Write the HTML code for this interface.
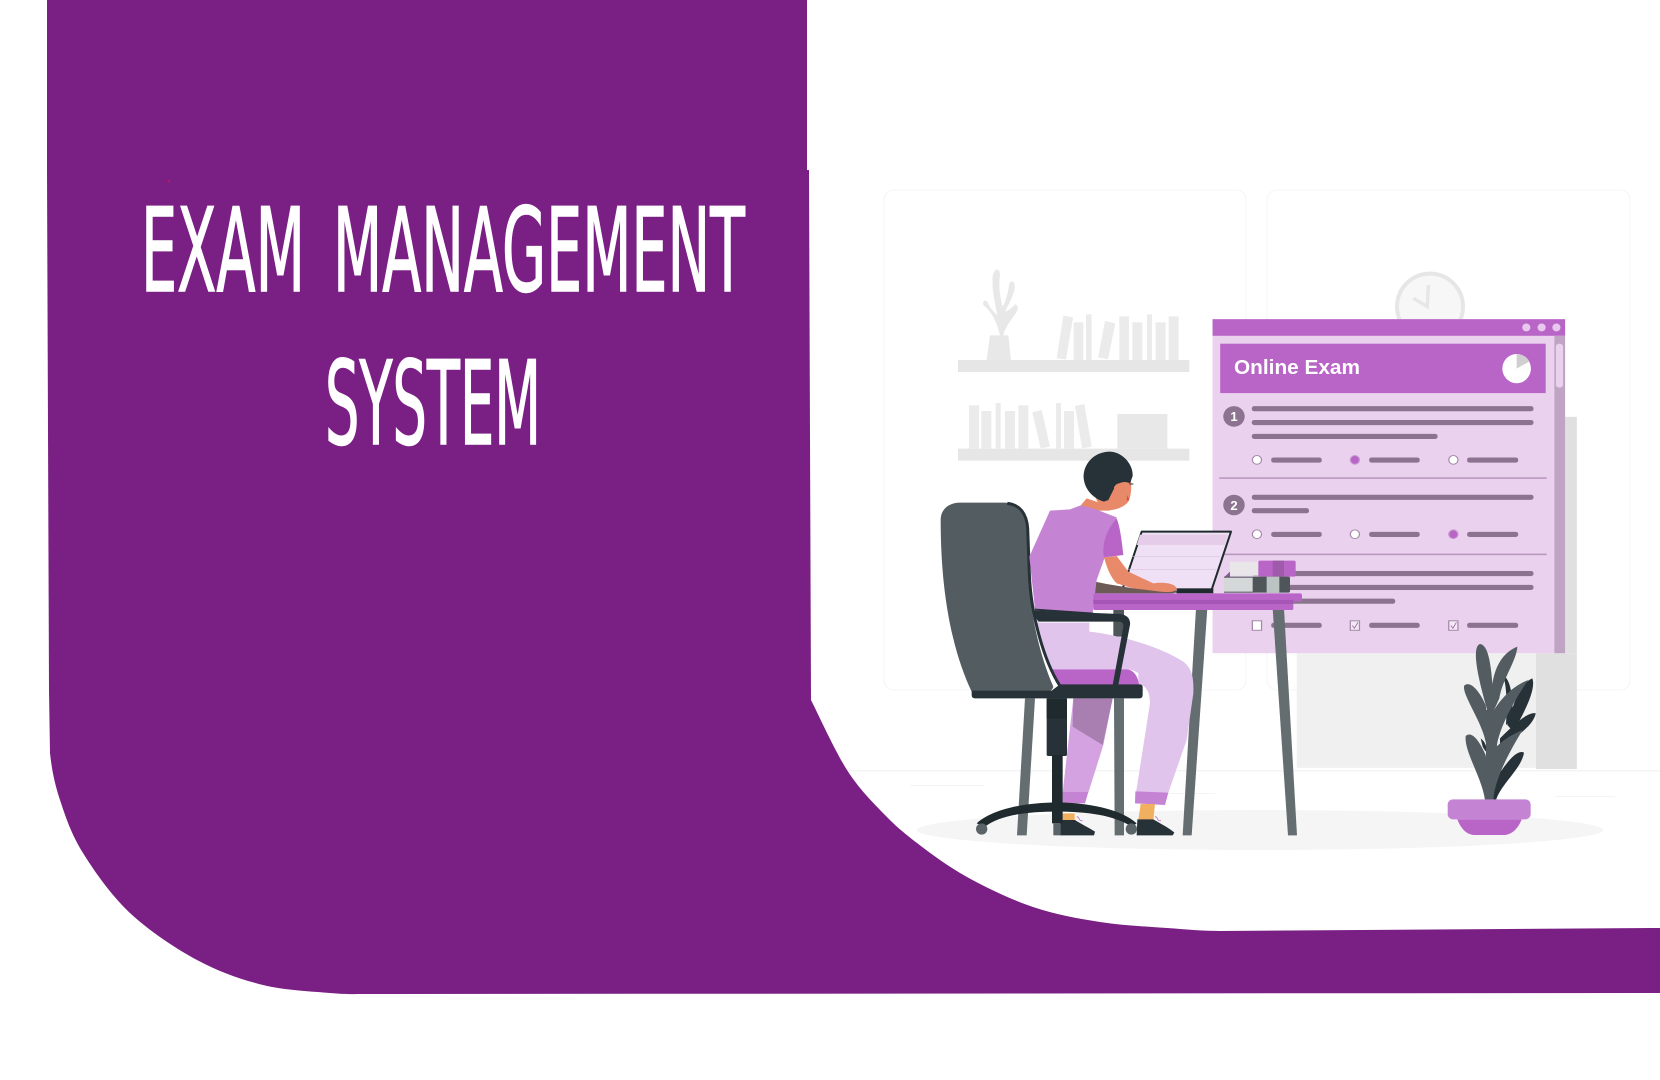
<!DOCTYPE html>
<html lang="en">
<head>
<meta charset="utf-8">
<title>Exam Management System</title>
<style>
html,body{margin:0;padding:0;background:#fff;width:1660px;height:1080px;overflow:hidden}
svg{display:block}
</style>
</head>
<body>
<svg width="1660" height="1080" viewBox="0 0 1660 1080" xmlns="http://www.w3.org/2000/svg">
<rect width="1660" height="1080" fill="#ffffff"/>

<g>
  <rect x="884" y="190" width="362" height="500" rx="10" fill="#fff" stroke="#f8f8f8" stroke-width="1.5"/>
  <rect x="1267" y="190" width="363" height="500" rx="10" fill="#fff" stroke="#f8f8f8" stroke-width="1.5"/>
  <rect x="815" y="770" width="845" height="1.5" fill="#f4f4f4"/>
  <rect x="910" y="785" width="75" height="1" fill="#f4f4f4"/>
  <rect x="1150" y="793" width="65" height="1" fill="#f4f4f4"/>
  <rect x="1555" y="796" width="60" height="1" fill="#f4f4f4"/>
  <ellipse cx="1260" cy="830" rx="343" ry="20" fill="#f5f5f5"/>
</g>

<g transform="translate(950,180) scale(0.33333)">
  <g>
    <circle cx="1440" cy="380" r="99" fill="#f7f7f7" stroke="#e6e6e6" stroke-width="12"/>
    <path d="M1435 315L1432 380L1390 355" fill="none" stroke="#e6e6e6" stroke-width="10"/>
  </g>
  <g>
    <rect x="24" y="540" width="694" height="36" fill="#e6e6e6"/>
    <rect x="24" y="806" width="694" height="36" fill="#e6e6e6"/>
    <g fill="#ebebeb">
      <path d="M340 407L369 412L348 538L320 535Z"/><rect x="371" y="427" width="29" height="113"/><rect x="408" y="403" width="17" height="137"/>
      <path d="M465 423L496 430L474 538L444 532Z"/><rect x="508" y="409" width="29" height="131"/><rect x="547" y="427" width="30" height="113"/>
      <rect x="591" y="403" width="15" height="137"/><rect x="617" y="427" width="30" height="113"/><rect x="656" y="409" width="30" height="131"/>
      <rect x="57" y="676" width="30" height="130"/><rect x="94" y="693" width="30" height="113"/><rect x="137" y="669" width="15" height="137"/>
      <rect x="165" y="693" width="30" height="113"/><rect x="205" y="676" width="30" height="130"/><path d="M247 697L275 690L300 800L272 805Z"/>
      <rect x="318" y="669" width="15" height="137"/><rect x="342" y="693" width="30" height="113"/><path d="M375 678L403 672L425 800L396 805Z"/>
    </g>
    <rect x="502" y="702" width="150" height="104" fill="#e8e8e8"/>
    <path d="M120 466H175L183 540H110Z" fill="#e8e8e8"/>
    <path d="M150 466C140 420 120 390 100 375C97 362 105 358 112 365C120 385 135 400 142 405C135 370 125 330 128 290C132 265 148 260 150 285C145 320 150 350 158 380C170 360 175 330 178 310C185 298 196 305 194 325C190 350 172 380 165 395C180 390 190 378 195 373C205 375 205 385 200 395C185 420 165 440 160 466Z" fill="#e8e8e8"/>
  </g>
</g>

<!-- window in local coordinates -->
<g transform="translate(860,250) scale(0.5102,0.3953)">
  <g>
    <rect x="856" y="1020" width="469" height="290" fill="#f0f0f0"/>
    <rect x="1325" y="1020" width="80" height="293" fill="#e0e0e0"/>
    <rect x="1382" y="422" width="23" height="598" fill="#e0e0e0"/>
  </g>
  <g>
    <rect x="691" y="175" width="691" height="845" fill="#ead2ee"/>
    <rect x="691" y="175" width="691" height="42" fill="#b865c7"/>
    <ellipse cx="1306" cy="196" rx="8" ry="10" fill="#e8c8ee"/>
    <ellipse cx="1336" cy="196" rx="8" ry="10" fill="#e8c8ee"/>
    <ellipse cx="1365" cy="196" rx="8" ry="10" fill="#e8c8ee"/>
    <rect x="1361" y="217" width="21" height="803" fill="#bfa4c3"/>
    <rect x="1364" y="237" width="14" height="111" rx="7" fill="#ead2ee"/>
    <rect x="706" y="237" width="638" height="125" fill="#b865c7"/>
    <ellipse cx="1287" cy="300" rx="28" ry="37" fill="#ffffff"/>
    <path d="M1287 300 L1287 263 C1300 264 1308 272 1312 282Z" fill="#cfcfcf"/>
    <g fill="#8c7490">
      <g>
        <ellipse cx="733" cy="421" rx="21" ry="26"/>
        <rect x="768" y="395" width="552" height="13" rx="5"/>
        <rect x="768" y="430" width="552" height="13" rx="5"/>
        <rect x="768" y="465" width="364" height="13" rx="5"/>
        <rect x="806" y="525" width="99" height="13" rx="5"/>
        <rect x="998" y="525" width="99" height="13" rx="5"/>
        <rect x="1190" y="525" width="100" height="13" rx="5"/>
      </g>
      <rect x="704" y="575" width="642" height="4" fill="#b898bc"/>
      <g>
        <ellipse cx="733" cy="645" rx="21" ry="26"/>
        <rect x="768" y="619" width="552" height="13" rx="5"/>
        <rect x="768" y="653" width="112" height="13" rx="5"/>
        <rect x="806" y="713" width="99" height="13" rx="5"/>
        <rect x="998" y="713" width="99" height="13" rx="5"/>
        <rect x="1190" y="713" width="100" height="13" rx="5"/>
      </g>
      <rect x="704" y="768" width="642" height="4" fill="#b898bc"/>
      <g>
        <rect x="768" y="812" width="552" height="13" rx="5"/>
        <rect x="768" y="847" width="552" height="13" rx="5"/>
        <rect x="768" y="882" width="281" height="13" rx="5"/>
        <rect x="806" y="943" width="99" height="13" rx="5"/>
        <rect x="998" y="943" width="99" height="13" rx="5"/>
        <rect x="1190" y="943" width="100" height="13" rx="5"/>
      </g>
    </g>
    <g stroke="#a58aa9" stroke-width="2.5" fill="#ffffff">
      <ellipse cx="778" cy="531" rx="9" ry="11"/>
      <ellipse cx="970" cy="531" rx="9" ry="11" fill="#b865c7" stroke="#c79ad0"/>
      <ellipse cx="1163" cy="531" rx="9" ry="11"/>
      <ellipse cx="778" cy="719" rx="9" ry="11"/>
      <ellipse cx="970" cy="719" rx="9" ry="11"/>
      <ellipse cx="1163" cy="719" rx="9" ry="11" fill="#b865c7" stroke="#c79ad0"/>
      <rect x="769" y="938" width="18" height="24"/>
      <rect x="961" y="938" width="18" height="24" fill="#f4e8f6"/>
      <rect x="1154" y="938" width="18" height="24" fill="#f4e8f6"/>
    </g>
    <path d="M965 950L969 957L976 942M1158 950L1162 957L1169 942" fill="none" stroke="#8c5a96" stroke-width="1.5"/>
  </g>
</g>

<g transform="translate(1420,630) scale(0.33333)">
  <g fill="#263238">
    <path d="M250 135C270 150 280 190 278 270L258 285C262 220 260 175 250 135Z"/>
    <path d="M337 145C348 175 320 235 280 305L262 285C280 220 300 160 337 145Z"/>
    <path d="M347 250C325 245 285 280 240 325L240 350C285 325 342 285 347 250Z"/>
    <path d="M182 325C195 335 202 350 197 365L188 350Z"/>
    <path d="M312 368C290 355 255 405 228 445L216 510H228C245 460 305 415 312 368Z"/>
  </g>
  <g fill="#535c60">
    <path d="M180 42C158 50 165 115 203 245L220 245C218 120 208 45 180 42Z"/>
    <path d="M292 50C248 68 222 110 215 178L220 245L238 205C248 145 290 92 292 50Z"/>
    <path d="M132 168C145 152 172 170 197 225L207 290V375L193 320C178 265 128 195 132 168Z"/>
    <path d="M325 150C278 168 238 208 212 258L197 385L228 368C230 300 290 200 325 150Z"/>
    <path d="M137 318C155 302 177 330 197 375L212 510H195C185 440 132 365 137 318Z"/>
    <path d="M308 300C265 318 225 345 203 385L196 510H220C224 440 282 342 308 300Z"/>
    <path d="M198 240H238L220 510H198Z"/>
  </g>
  <path d="M112 568H305C295 595 275 615 250 615H165C140 615 122 595 112 568Z" fill="#b865c7"/>
  <rect x="83" y="508" width="249" height="60" rx="16" fill="#c583d3"/>
</g>

<!-- person, chair and desk at 3x local coordinates -->
<g transform="translate(920,440) scale(0.33333)">
  <g fill="#646d70">
    <path d="M315 775H345L320 1186H291Z"/>
    <path d="M582 775H612V1186H584Z"/>
  </g>
  <rect x="580" y="510" width="32" height="80" fill="#4f565a"/>
  <g fill="#646d70">
    <path d="M828 505H862L815 1186H788Z"/>
    <path d="M1058 505H1092L1131 1186H1104Z"/>
  </g>
  <g>
    <path d="M460 775H578L550 915L505 1058H428Z" fill="#d4a2e0"/>
    <path d="M460 775H578L548 915L458 860Z" fill="#a87fb0"/>
    <path d="M428 1056H505L495 1090H428Z" fill="#c583d3"/>
    <rect x="428" y="1120" width="36" height="22" fill="#f0b060"/>
    <path d="M350 548H508V575C600 585 720 620 790 665C815 685 822 710 820 760L800 900L745 1058H648L690 790C690 760 680 735 655 733V700C640 688 625 688 620 688H395C375 640 360 590 350 548Z" fill="#e1c4ec"/>
    <path d="M646 1054L745 1058L735 1095L645 1090Z" fill="#c583d3"/>
    <path d="M662 1092H705L700 1140H655Z" fill="#f0b060"/>
    <path d="M420 1140H465C480 1150 510 1165 525 1175L522 1186H420Z" fill="#263238"/>
    <path d="M652 1138H700C720 1150 750 1165 763 1178L758 1186H650Z" fill="#263238"/>
    <path d="M470 1130C480 1130 475 1145 488 1142M705 1130C715 1130 710 1145 723 1142" fill="none" stroke="#c583d3" stroke-width="3"/>
  </g>
  <g>
    <path d="M395 688H620C640 688 655 710 657 735H420Z" fill="#b865c7"/>
    <path d="M62 240C62 205 90 188 120 188H255C295 192 312 215 320 250L325 400C330 520 360 650 400 740C398 750 390 755 380 755H155C110 660 62 500 62 240Z" fill="#535c60"/>
    <path d="M262 190C300 194 320 222 323 265L328 400C332 520 370 660 420 738" fill="none" stroke="#263238" stroke-width="9"/>
    <path d="M420 733H660Q668 733 668 742V765Q668 775 658 775H165Q155 775 155 765V752H395Z" fill="#263238"/>
    <rect x="380" y="775" width="61" height="173" rx="5" fill="#263238"/>
    <rect x="380" y="775" width="61" height="60" fill="#1e2a2e"/>
    <rect x="396" y="945" width="32" height="205" fill="#1e2a2e"/>
    <rect x="400" y="1150" width="22" height="36" fill="#5a6468"/>
    <path d="M170 1150C220 1105 320 1088 410 1087C500 1088 600 1105 650 1150L635 1160C580 1125 500 1115 410 1115C320 1115 240 1125 195 1160Z" fill="#1e2a2e"/>
    <circle cx="185" cy="1167" r="17" fill="#5a6468"/>
    <circle cx="634" cy="1167" r="17" fill="#5a6468"/>
  </g>
  <g>
    <path d="M665 275H933L873 455H605Z" fill="#f0e0f5" stroke="#1e2a2e" stroke-width="6" stroke-linejoin="round"/>
    <path d="M660 284H924L914 315H650Z" fill="#e5cdea"/>
    <path d="M638 350H902M625 388H890" stroke="#d8c4dc" stroke-width="2" fill="none"/>
    <rect x="770" y="445" width="110" height="15" fill="#1e2a2e"/>
  </g>
  <g>
    <path d="M525 425L560 432L640 445L775 452L760 460H525Z" fill="#6b5a55"/>
    <path d="M500 175L545 190L570 212L530 212L482 196Z" fill="#e8896a"/>
    <path d="M390 212L450 208L482 196L520 205L590 232L555 350L530 420L518 520L345 508L328 350Z" fill="#c583d3"/>
    <path d="M552 352L590 348L625 395L700 430C730 425 765 430 770 445C770 455 750 458 720 455L640 445L590 430C570 410 560 380 552 352Z" fill="#e8896a"/>
    <path d="M590 235C600 260 605 300 610 345L552 352C545 320 555 275 590 235Z" fill="#b865c7"/>
    <path d="M630 100C636 130 635 165 625 185C610 205 575 215 545 210L525 170Z" fill="#e8896a"/>
    <path d="M552 185C520 175 495 150 491 115C488 75 520 35 570 35C610 37 640 75 638 108L630 130C610 120 590 130 580 150L565 180Z" fill="#263238"/>
    <path d="M582 142C590 125 612 125 612 145C610 165 595 170 585 160Z" fill="#e8896a"/>
    <path d="M628 132H640" stroke="#263238" stroke-width="3"/>
    <path d="M622 165L628 180L620 182Z" fill="#d94f3d"/>
    <path d="M345 506L520 518V522L345 512Z" fill="#263238"/>
  </g>
  <g>
    <rect x="520" y="460" width="626" height="24" rx="6" fill="#b865c7"/>
    <rect x="520" y="480" width="600" height="30" rx="4" fill="#b865c7"/>
    <rect x="520" y="480" width="600" height="12" fill="#a455b5"/>
  </g>
  <path d="M345 512L600 522C625 525 632 540 630 555L595 735H578L610 560C612 550 605 545 595 545H355L345 530Z" fill="#263238"/>
  <g>
    <path d="M912 412L930 395V412Z" fill="#8a5a96"/>
    <rect x="930" y="365" width="90" height="42" fill="#e8e6e8"/>
    <rect x="1015" y="362" width="112" height="48" rx="5" fill="#b865c7"/>
    <rect x="1058" y="362" width="34" height="48" fill="#9f5aa9"/>
    <rect x="912" y="413" width="90" height="42" fill="#d5d8d8"/>
    <rect x="912" y="410" width="90" height="3" fill="#4f565a"/>
    <rect x="912" y="455" width="90" height="3" fill="#4f565a"/>
    <rect x="998" y="410" width="112" height="48" rx="5" fill="#4f565a"/>
    <rect x="1040" y="410" width="38" height="48" fill="#bcc3c3"/>
  </g>
</g>

<!-- purple panel -->
<path d="M47 0H807V170H809L811 700C817 711.7 835 751.2 847 770C859 788.8 871.3 800.8 883 813C894.7 825.2 903 832.3 917 843C931 853.7 947.7 866.3 967 877C986.3 887.7 1010.8 899.5 1033 907C1055.2 914.5 1077.7 918.5 1100 922C1122.3 925.5 1147 926.5 1167 928C1187 929.5 1205 931 1220 931L1660 928V993L363 994C352 994 346.7 994.5 330 993C313.3 991.5 285.2 990.5 263 985C240.8 979.5 219.2 972 197 960C174.8 948 149 930.8 130 913C111 895.2 94.7 871.8 83 853C71.3 834.2 65.5 816.7 60 800C54.5 783.3 51.8 769.7 50 753L49 690L47 170Z" fill="#7a1f84"/>
<rect x="168" y="180" width="2" height="2" fill="#c2185b"/>

<text x="141" y="291" font-family="'DejaVu Sans','Liberation Sans',sans-serif" font-size="116" fill="#ffffff" stroke="#ffffff" stroke-width="1.5" textLength="164" lengthAdjust="spacingAndGlyphs">EXAM</text>
<text x="333" y="291" font-family="'DejaVu Sans','Liberation Sans',sans-serif" font-size="116" fill="#ffffff" stroke="#ffffff" stroke-width="1.5" textLength="412" lengthAdjust="spacingAndGlyphs">MANAGEMENT</text>
<text x="325" y="444" font-family="'DejaVu Sans','Liberation Sans',sans-serif" font-size="116" fill="#ffffff" stroke="#ffffff" stroke-width="1.5" textLength="216" lengthAdjust="spacingAndGlyphs">SYSTEM</text>

<text x="1234" y="374" font-family="'Liberation Sans',sans-serif" font-weight="700" font-size="20" fill="#ffffff" textLength="126" lengthAdjust="spacingAndGlyphs">Online Exam</text>
<text x="1234" y="421" font-family="'Liberation Sans',sans-serif" font-weight="700" font-size="13" fill="#ffffff" text-anchor="middle">1</text>
<text x="1234" y="510" font-family="'Liberation Sans',sans-serif" font-weight="700" font-size="13" fill="#ffffff" text-anchor="middle">2</text>
</svg>
</body>
</html>
